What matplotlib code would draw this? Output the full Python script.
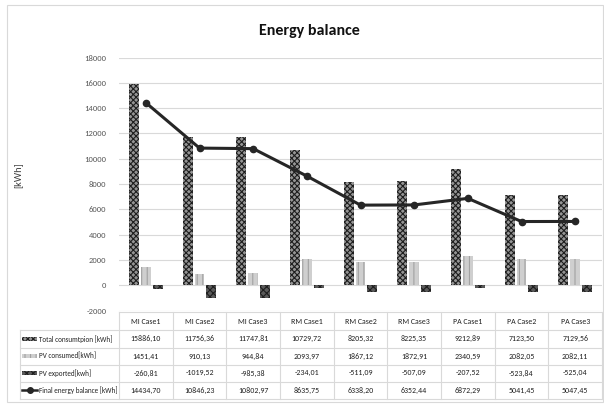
import matplotlib
matplotlib.use("Agg")
import matplotlib.pyplot as plt
from matplotlib.patches import Rectangle
from matplotlib.lines import Line2D
from matplotlib.transforms import blended_transform_factory
import matplotlib.font_manager as fm

categories = ["MI Case1", "MI Case2", "MI Case3", "RM Case1", "RM Case2",
              "RM Case3", "PA Case1", "PA Case2", "PA Case3"]
total_consumption = [15886.10, 11756.36, 11747.81, 10729.72, 8205.32,
                     8225.35, 9212.89, 7123.50, 7129.56]
pv_consumed = [1451.41, 910.13, 944.84, 2093.97, 1867.12,
               1872.91, 2340.59, 2082.05, 2082.11]
pv_exported = [-260.81, -1019.52, -985.38, -234.01, -511.09,
               -507.09, -207.52, -523.84, -525.04]
final_balance = [14434.70, 10846.23, 10802.97, 8635.75, 6338.20,
                 6352.44, 6872.29, 5041.45, 5047.45]
series_labels = ["Total consumtpion [kWh]", "PV consumed[kWh]",
                 "PV exported[kwh]", "Final energy balance [kWh]"]
yticks = list(range(-2000, 18001, 2000))

names = {f.name for f in fm.fontManager.ttflist}
prefs = ["Carlito", "Calibri", "PT Sans Narrow", "Roboto Condensed", "Open Sans Condensed",
         "Archivo Narrow", "Fira Sans Condensed", "Liberation Sans Narrow", "Lato"]
base = next((p for p in prefs if p in names), "DejaVu Sans")
plt.rcParams['font.family'] = [base, 'DejaVu Sans']
plt.rcParams['hatch.linewidth'] = 0.8

W, H = 604, 405
fig = plt.figure(figsize=(W / 100, H / 100), dpi=100)
fig.patch.set_facecolor("white")

ov = fig.add_axes([0, 0, 1, 1], zorder=0)
ov.set_xlim(0, W)
ov.set_ylim(H, 0)
ov.axis("off")

ax_l, ax_r, ax_t, ax_b = 119, 602, 57.6, 310.6
ax = fig.add_axes([ax_l / W, 1 - ax_b / H, (ax_r - ax_l) / W, (ax_b - ax_t) / H], zorder=1)
ax.patch.set_alpha(0)
n = len(categories)
x = list(range(n))
ax.set_xlim(-0.5, n - 0.5)
ax.set_ylim(-2000, 18000)
ax.set_yticks(yticks)
ax.set_yticklabels([str(v) for v in yticks], fontsize=6.2, color="#595959")
ax.tick_params(axis="y", length=0, pad=9)
ax.tick_params(axis="x", length=0, labelbottom=False)
for s in ax.spines.values():
    s.set_visible(False)
ax.grid(axis="y", color="#d9d9d9", linewidth=0.8)
ax.set_axisbelow(True)

bw = 0.186
off = 0.223
sty_total = dict(facecolor="#959595", edgecolor="#1e1e1e", hatch="xxxxxx", linewidth=0)
sty_pv = dict(facecolor="#cfcfcf", edgecolor="#a2a2a2", hatch="|||", linewidth=0)
sty_exp = dict(facecolor="#5a5a5a", edgecolor="#1e1e1e", hatch="xxxxx", linewidth=0)
ax.bar([i - off for i in x], total_consumption, width=bw, **sty_total)
ax.bar(x, pv_consumed, width=bw, **sty_pv)
ax.bar([i + off for i in x], pv_exported, width=bw, **sty_exp)
line_sty = dict(color="#262626", linewidth=2.2, marker="o", markersize=4.5)
ax.plot(x, final_balance, **line_sty)

# Title and axis label
ov.text(309, 31, "Energy balance", ha="center", va="center", fontsize=11.5,
        fontweight="heavy", color="#111111")
ov.text(18, 175, "[kWh]", ha="center", va="center", rotation=90, fontsize=7.5, color="#404040")

# Outer frame
ov.add_patch(Rectangle((7, 5), 596, 397, fill=False, edgecolor="#d9d9d9", linewidth=0.8))

# Data table
tr = blended_transform_factory(ax.transData, ov.transData)
gc = "#d9d9d9"
row_y = [312, 330, 347.5, 364.5, 381.5, 398.5]
fmt = lambda v: f"{v:.2f}".replace(".", ",")
tfs = 5.7
lfs = 5.1
tc = "#222222"
ov.plot([ax_l, ax_r], [row_y[0]] * 2, color=gc, lw=0.8)
for y in row_y[1:]:
    ov.plot([20, ax_r], [y, y], color=gc, lw=0.8)
for i in range(n + 1):
    ov.plot([i - 0.5, i - 0.5], [row_y[0], row_y[-1]], color=gc, lw=0.8, transform=tr)
ov.plot([20, 20], [row_y[1], row_y[-1]], color=gc, lw=0.8)
for i, c in enumerate(categories):
    ov.text(i, (row_y[0] + row_y[1]) / 2, c, ha="center", va="center", fontsize=tfs,
            color=tc, transform=tr)
rows = [total_consumption, pv_consumed, pv_exported, final_balance]
for r, vals in enumerate(rows):
    yc = (row_y[r + 1] + row_y[r + 2]) / 2
    for i, v in enumerate(vals):
        ov.text(i, yc, fmt(v), ha="center", va="center", fontsize=tfs,
                color=tc, transform=tr)
    ov.text(39, yc, series_labels[r], ha="left", va="center", fontsize=lfs, color=tc)
stys = [sty_total, sty_pv, sty_exp]
for r in range(3):
    yc = (row_y[r + 1] + row_y[r + 2]) / 2
    ov.add_patch(Rectangle((22, yc - 2), 15, 4, **stys[r]))
yc = (row_y[4] + row_y[5]) / 2
ov.add_line(Line2D([22, 37], [yc, yc], color="#262626", lw=1.8))
ov.plot([29.5], [yc], marker="o", markersize=4, color="#262626")

fig.savefig("out.png", dpi=100)
